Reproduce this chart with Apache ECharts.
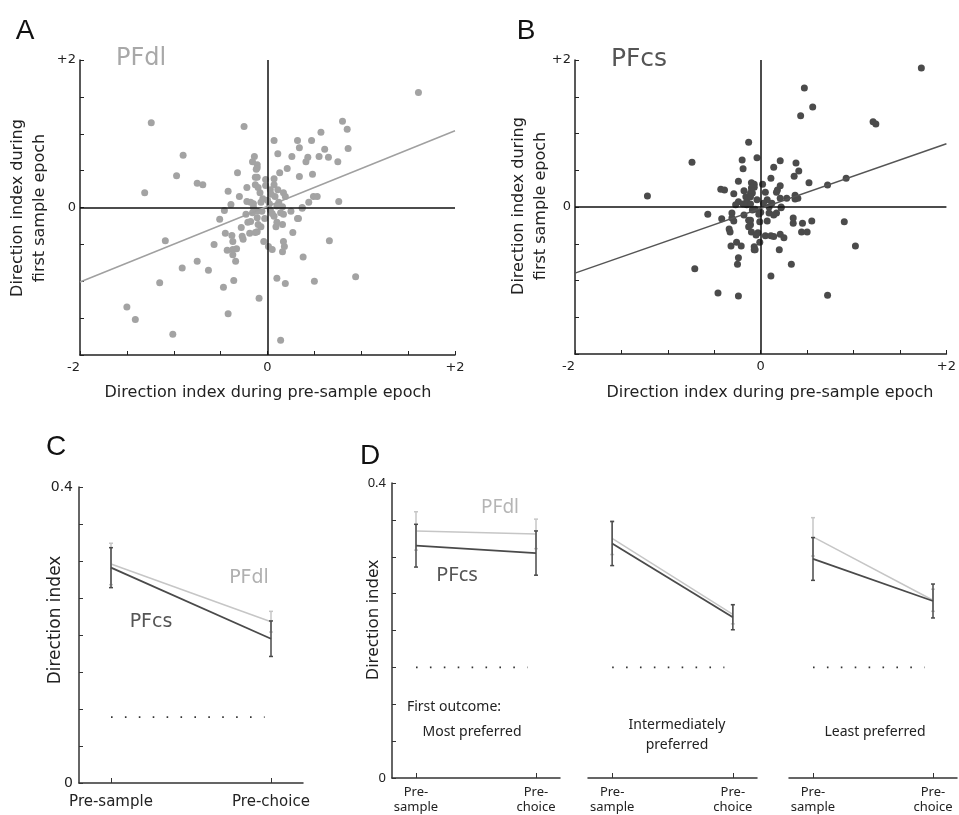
<!DOCTYPE html>
<html>
<head>
  <meta charset="utf-8">
  <title>Direction index</title>
  <script src="https://cdn.jsdelivr.net/npm/echarts@6/dist/echarts.min.js"></script>
  <style>
    html, body { margin: 0; padding: 0; background: #fff; }
    #main { width: 959px; height: 815px; }
  </style>
</head>
<body>
<div id="main"></div>
<script>
  // ---- data ----
  // panel A: PFdl, pre-sample vs first sample direction index
  var pfdlPoints = [
    [-1.24,1.15],[-0.25,1.10],[-0.90,0.71],[-0.97,0.43],[-0.75,0.33],[-0.69,0.31],[-1.31,0.20],[-0.32,0.47],
    [-0.14,0.69],[-0.16,0.62],[-0.11,0.54],[-0.42,0.22],[-0.30,0.15],[-0.22,0.27],[-0.13,0.41],[-0.39,0.04],
    [-0.22,0.08],[1.61,1.56],[0.80,1.17],[0.85,1.06],[0.57,1.02],[0.07,0.91],[0.32,0.91],[0.47,0.91],
    [0.34,0.81],[0.86,0.80],[0.11,0.73],[0.61,0.79],[0.26,0.69],[0.43,0.68],[0.41,0.62],[0.55,0.69],
    [0.65,0.68],[0.75,0.62],[0.21,0.53],[0.13,0.47],[0.34,0.42],[0.48,0.45],[0.07,0.39],[-0.11,0.58],
    [-0.12,0.52],[-0.11,0.41],[-0.13,0.31],[-0.10,0.27],[-0.02,0.38],[0.07,0.31],[0.11,0.24],[0.03,0.24],
    [0.17,0.20],[0.19,0.15],[0.49,0.15],[0.53,0.15],[0.76,0.08],[0.44,0.07],[0.37,0.00],[0.12,0.07],
    [0.16,0.01],[-0.07,0.07],[-0.15,0.05],[-0.18,0.07],
    [-1.09,-0.45],[-1.15,-1.02],[-1.50,-1.35],[-1.41,-1.52],[-1.01,-1.72],[-0.91,-0.82],[-0.75,-0.73],
    [-0.63,-0.85],[-0.47,-1.08],[-0.36,-0.99],[-0.42,-1.44],[-0.09,-1.23],[-0.57,-0.50],[-0.51,-0.16],
    [-0.46,-0.04],[-0.45,-0.35],[-0.38,-0.38],[-0.37,-0.46],[-0.43,-0.58],[-0.37,-0.57],[-0.33,-0.56],
    [-0.37,-0.64],[-0.34,-0.73],[-0.27,-0.39],[-0.26,-0.43],[-0.28,-0.27],[-0.21,-0.20],[-0.18,-0.19],
    [-0.19,-0.35],[-0.11,-0.33],[-0.23,-0.09],[-0.16,-0.07],[-0.11,-0.05],[-0.15,0.00],[-0.10,-0.23],
    [0.66,-0.45],[0.38,-0.67],[0.94,-0.94],[0.50,-1.00],[0.10,-0.96],[0.19,-1.03],[0.14,-1.80],[0.27,-0.34],
    [0.16,-0.60],[0.17,-0.46],[0.18,-0.53],[-0.04,-0.46],[0.01,-0.53],[0.05,-0.57],[0.32,-0.15],[0.33,-0.15],
    [0.25,-0.05],[0.37,-0.01],[0.16,-0.23],[0.09,-0.26],[-0.07,-0.26],[-0.13,-0.34],[0.07,-0.12],[0.14,-0.07],
    [0.17,-0.09],[0.03,-0.03],[-0.11,-0.14],[0.02,0.05],[-0.05,0.12],[0.05,-0.08],[-0.03,-0.15],[0.08,0.15],
    [-0.08,0.20],[0.00,0.10],[-0.06,-0.05],[0.10,0.02],[0.04,0.18],[-0.02,0.30],[0.10,-0.20]
  ];
  var pfdlFit = [[-2, -1.01], [2, 1.04]];

  // panel B: PFcs
  var pfcsPoints = [
    [-1.22,0.15],[-0.74,0.61],[-0.13,0.88],[-0.20,0.64],[-0.19,0.52],[-0.04,0.67],[-0.24,0.35],[-0.43,0.24],
    [-0.39,0.23],[-0.29,0.18],[-0.18,0.22],[-0.10,0.33],[-0.07,0.27],[-0.16,0.14],[-0.11,0.19],[-0.15,0.07],
    [-0.24,0.07],[-0.27,0.03],
    [1.73,1.89],[0.47,1.62],[0.56,1.36],[0.43,1.24],[1.21,1.16],[1.24,1.13],[0.21,0.63],[0.38,0.60],
    [0.14,0.54],[0.41,0.49],[0.36,0.42],[0.11,0.39],[0.92,0.39],[0.52,0.33],[0.72,0.30],[0.02,0.31],
    [0.21,0.29],[0.18,0.23],[0.17,0.20],[-0.07,0.31],[-0.10,0.26],[-0.09,0.19],[-0.11,0.14],[0.07,0.10],
    [0.21,0.12],[0.28,0.12],[0.37,0.16],[0.37,0.11],[0.40,0.12],[0.22,0.00],[0.09,0.00],
    [-0.57,-0.10],[-0.42,-0.16],[-0.71,-0.84],[-0.46,-1.17],[-0.24,-1.21],[-0.24,-0.69],[-0.25,-0.78],
    [-0.32,-0.53],[-0.26,-0.48],[-0.21,-0.53],[-0.34,-0.30],[-0.33,-0.34],[-0.31,-0.08],[-0.31,-0.15],
    [-0.29,-0.19],[-0.18,-0.11],[-0.13,-0.18],[-0.11,-0.24],[-0.13,-0.27],[-0.07,-0.54],[-0.07,-0.58],
    [-0.10,-0.34],[-0.03,-0.35],[-0.19,0.04],[-0.15,0.03],[-0.11,0.04],[-0.06,-0.03],
    [0.90,-0.20],[1.02,-0.53],[0.72,-1.20],[0.33,-0.78],[0.11,-0.94],[0.20,-0.58],[0.55,-0.19],[0.45,-0.22],
    [0.35,-0.15],[0.35,-0.22],[0.44,-0.34],[0.50,-0.34],[0.21,-0.37],[0.25,-0.42],[0.05,-0.39],[0.11,-0.39],
    [0.14,-0.40],[-0.01,-0.48],[-0.06,-0.58],[-0.05,-0.38],[-0.01,-0.20],[0.07,-0.19],[0.09,-0.08],
    [0.17,-0.08],[0.14,-0.11],[0.22,-0.01],[-0.09,-0.04],[0.00,-0.07],[-0.11,-0.18],
    [0.03,0.05],[-0.04,0.10],[0.05,0.20],[-0.02,-0.10],[0.12,0.05]
  ];
  var pfcsFit = [[-2, -0.90], [2, 0.86]];

  // panel C
  var epochs = ['Pre-sample', 'Pre-choice'];
  var pfcsC = [0.291, 0.195];
  var pfcsCErr = [0.027, 0.024];
  var pfdlC = [0.296, 0.218];
  var pfdlCErr = [0.028, 0.014];
  var chanceC = 0.089;

  // panel D (by first outcome)
  var epochsShort = ['Pre-\nsample', 'Pre-\nchoice'];
  var outcomes = ['Most preferred', 'Intermediately\npreferred', 'Least preferred'];
  var pfcsD = [[0.315, 0.305], [0.318, 0.218], [0.297, 0.240]];
  var pfcsDErr = [[0.029, 0.030], [0.030, 0.017], [0.029, 0.023]];
  var pfdlD = [[0.335, 0.331], [0.325, 0.222], [0.327, 0.241]];
  var pfdlDErr = [[0.026, 0.020], [0.022, 0.013], [0.026, 0.015]];
  var chanceD = 0.15;

  var DARK = '#4a4a4a', LIGHT = '#c6c6c6';
  var VERD = 'DejaVu Sans', MYR = 'Noto Sans';

  var chart = echarts.init(document.getElementById('main'));

  // helpers
  function scatterX(grid) {
    return {
      gridIndex: grid, type: 'value', min: -2, max: 2, interval: 0.5,
      axisLine: { onZero: false, lineStyle: { color: '#222', width: 1.5 } },
      axisTick: { inside: true, length: 4, lineStyle: { color: '#222' } },
      axisLabel: {
        color: '#222', fontSize: 13, fontFamily: VERD, margin: 6,
        alignMinLabel: 'right',
        formatter: function (v) { return v === 2 ? '+2' : (v === 0 ? '0' : (v === -2 ? '-2' : '')); }
      },
      splitLine: { show: false }
    };
  }
  function scatterY(grid) {
    return {
      gridIndex: grid, type: 'value', min: -2, max: 2, interval: 0.5,
      axisLine: { onZero: false, lineStyle: { color: '#222', width: 1.5 } },
      axisTick: { inside: true, length: 4, lineStyle: { color: '#222' } },
      axisLabel: {
        color: '#222', fontSize: 13, fontFamily: VERD, margin: 4,
        formatter: function (v) { return v === 2 ? '+2' : (v === 0 ? '0' : ''); }
      },
      splitLine: { show: false }
    };
  }
  function epochX(grid, labels, font, size, margin) {
    return {
      gridIndex: grid, type: 'value', min: -0.2, max: 1.2,
      axisLine: { onZero: false, lineStyle: { color: '#333', width: 1.5 } },
      axisTick: { show: true, inside: true, length: 5, customValues: [0, 1], lineStyle: { color: '#333' } },
      axisLabel: {
        customValues: [0, 1], color: '#222', fontSize: size, fontFamily: font, margin: margin, lineHeight: 15,
        formatter: function (v) { return labels[Math.round(v)]; }
      },
      splitLine: { show: false }
    };
  }
  function indexY(grid, show, font, size) {
    return {
      gridIndex: grid, type: 'value', min: 0, max: 0.4, interval: 0.05, show: show,
      axisLine: { show: true, onZero: false, lineStyle: { color: '#333', width: 1.5 } },
      axisTick: { inside: true, length: 4, lineStyle: { color: '#333' } },
      axisLabel: {
        color: '#222', fontSize: size, fontFamily: font, margin: 6,
        formatter: function (v) { return Math.abs(v - 0.4) < 1e-6 ? '0.4' : (Math.abs(v) < 1e-6 ? '0' : ''); }
      },
      splitLine: { show: false }
    };
  }
  function pairs(vals) { return vals.map(function (v, i) { return [i, v]; }); }
  function bars(vals, errs) { return vals.map(function (v, i) { return [i, v - errs[i], v + errs[i]]; }); }
  function errSeries(grid, data, color) {
    return {
      type: 'custom', xAxisIndex: grid, yAxisIndex: grid, data: data, silent: true, z: 3,
      renderItem: function (params, api) {
        var lo = api.coord([api.value(0), api.value(1)]);
        var hi = api.coord([api.value(0), api.value(2)]);
        var st = { stroke: color, lineWidth: 1.5 };
        return {
          type: 'group', children: [
            { type: 'line', shape: { x1: lo[0], y1: lo[1], x2: hi[0], y2: hi[1] }, style: st },
            { type: 'line', shape: { x1: lo[0] - 2, y1: lo[1], x2: lo[0] + 2, y2: lo[1] }, style: st },
            { type: 'line', shape: { x1: hi[0] - 2, y1: hi[1], x2: hi[0] + 2, y2: hi[1] }, style: st }
          ]
        };
      }
    };
  }
  function lineSeries(grid, data, color, width, z) {
    return {
      type: 'line', xAxisIndex: grid, yAxisIndex: grid, data: data, symbol: 'none', silent: true, z: z,
      lineStyle: { color: color, width: width }
    };
  }
  function chanceSeries(grid, level, end) {
    return {
      type: 'line', xAxisIndex: grid, yAxisIndex: grid, data: [[0, level], [end, level]], symbol: 'none', silent: true,
      lineStyle: { color: '#333', width: 1.6, type: [1.6, 12.3] }
    };
  }
  function scatterSeries(grid, pts, color) {
    return {
      type: 'scatter', xAxisIndex: grid, yAxisIndex: grid, data: pts, symbolSize: 7, silent: true, z: 4,
      itemStyle: { color: color, opacity: 1 },
      markLine: {
        silent: true, symbol: 'none', label: { show: false },
        lineStyle: { color: '#111', width: 1.5, type: 'solid' },
        data: [{ xAxis: 0 }, { yAxis: 0 }]
      }
    };
  }
  function txt(x, y, s, size, color, font, rot, extra) {
    var o = {
      type: 'text', x: x, y: y, rotation: rot || 0, silent: true,
      style: { text: s, fontSize: size, fontFamily: font, fill: color, align: 'center', verticalAlign: 'middle' }
    };
    if (extra) for (var k in extra) o.style[k] = extra[k];
    return o;
  }

  var grids = [
    { left: 80, top: 60, width: 375, height: 295 },
    { left: 575, top: 60, width: 374, height: 294 },
    { left: 79, top: 487, width: 224, height: 296 },
    { left: 392, top: 483, width: 168, height: 295 },
    { left: 588, top: 483, width: 169, height: 295 },
    { left: 789, top: 483, width: 168, height: 295 }
  ];

  var xAxes = [scatterX(0), scatterX(1), epochX(2, epochs, VERD, 15, 12)];
  var yAxes = [scatterY(0), scatterY(1), indexY(2, true, VERD, 14)];
  for (var g = 0; g < 3; g++) {
    xAxes.push(epochX(3 + g, epochsShort, MYR, 13, 7));
    yAxes.push(indexY(3 + g, g === 0, MYR, 13));
  }

  var series = [
    scatterSeries(0, pfdlPoints, '#a3a3a3'),
    lineSeries(0, pfdlFit, '#a0a0a0', 1.5, 5),
    scatterSeries(1, pfcsPoints, '#4b4b4b'),
    lineSeries(1, pfcsFit, '#555', 1.5, 5),
    lineSeries(2, pairs(pfdlC), LIGHT, 1.5, 2),
    errSeries(2, bars(pfdlC, pfdlCErr), LIGHT),
    lineSeries(2, pairs(pfcsC), DARK, 1.8, 4),
    errSeries(2, bars(pfcsC, pfcsCErr), DARK),
    chanceSeries(2, chanceC, 0.96)
  ];
  for (var g2 = 0; g2 < 3; g2++) {
    var gi = 3 + g2;
    series.push(lineSeries(gi, pairs(pfdlD[g2]), LIGHT, 1.5, 2));
    series.push(errSeries(gi, bars(pfdlD[g2], pfdlDErr[g2]), LIGHT));
    series.push(lineSeries(gi, pairs(pfcsD[g2]), DARK, 1.8, 4));
    series.push(errSeries(gi, bars(pfcsD[g2], pfcsDErr[g2]), DARK));
    series.push(chanceSeries(gi, chanceD, 0.93));
  }

  var LET = 'Liberation Sans';
  var graphics = [
    txt(25, 31, 'A', 28, '#111', LET),
    txt(526, 31, 'B', 28, '#111', LET),
    txt(56, 447, 'C', 28, '#111', LET),
    txt(370, 456, 'D', 28, '#111', LET),
    txt(141, 59, 'PFdl', 24, '#a8a8a8', VERD),
    txt(639, 59, 'PFcs', 25, '#555', VERD),
    txt(268, 393, 'Direction index during pre-sample epoch', 16, '#222', VERD),
    txt(770, 393, 'Direction index during pre-sample epoch', 16, '#222', VERD),
    txt(29, 208, 'Direction index during\nfirst sample epoch', 16, '#222', VERD, Math.PI / 2, { lineHeight: 22 }),
    txt(530, 206, 'Direction index during\nfirst sample epoch', 16, '#222', VERD, Math.PI / 2, { lineHeight: 22 }),
    txt(56, 620, 'Direction index', 17, '#222', VERD, Math.PI / 2),
    txt(249, 578, 'PFdl', 19, '#b0b0b0', VERD),
    txt(151, 622, 'PFcs', 19, '#555', VERD),
    txt(373, 620, 'Direction index', 17, '#222', MYR, Math.PI / 2),
    txt(500, 508, 'PFdl', 19, '#b5b5b5', MYR),
    txt(457, 575, 'PFcs', 20, '#555', MYR),
    txt(454, 707, 'First outcome:', 14, '#222', MYR),
    txt(472, 732, outcomes[0], 14, '#222', MYR),
    txt(677, 735, outcomes[1], 14, '#222', MYR, 0, { lineHeight: 20 }),
    txt(875, 732, outcomes[2], 14, '#222', MYR)
  ];

  chart.setOption({
    animation: false,
    backgroundColor: '#fff',
    grid: grids,
    xAxis: xAxes,
    yAxis: yAxes,
    series: series,
    graphic: graphics
  });
</script>
</body>
</html>
